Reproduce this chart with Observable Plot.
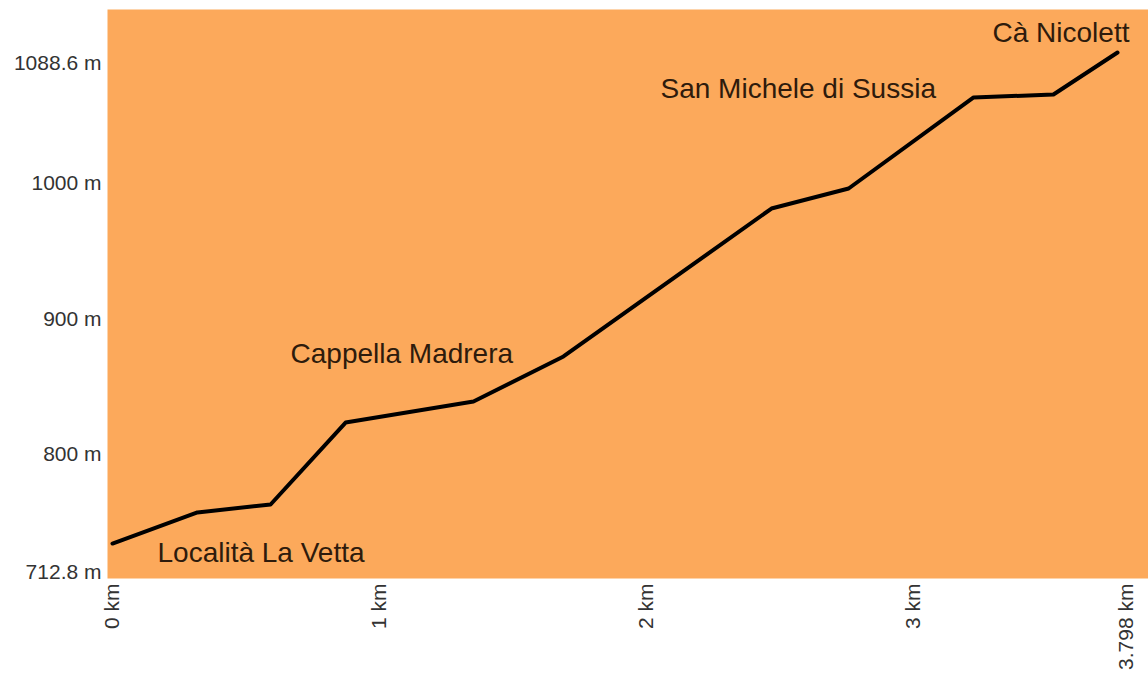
<!DOCTYPE html>
<html><head><meta charset="utf-8">
<script src="https://cdn.jsdelivr.net/npm/d3@7"></script>
<script src="https://cdn.jsdelivr.net/npm/@observablehq/plot@0.6"></script>
<style>body{margin:0;background:#fff;}</style>
</head><body><div id="chart"></div>
<script>
// Elevation profile
const distanceKm = [0, 0.318, 0.592, 0.873, 1.352, 1.689, 2.468, 2.757, 3.225, 3.524, 3.764];
const elevationM = [734.2, 757.1, 763.0, 823.5, 839.0, 872.3, 981.5, 996.3, 1063.5, 1065.7, 1096.7];

const xTicks = [0, 1, 2, 3, 3.798];
const xTickLabels = ["0 km", "1 km", "2 km", "3 km", "3.798 km"];
const yTicks = [712.8, 800, 900, 1000, 1088.6];
const yTickLabels = ["712.8 m", "800 m", "900 m", "1000 m", "1088.6 m"];

const placeNames = ["Località La Vetta", "Cappella Madrera", "San Michele di Sussia", "Cà Nicolett"];
const placeKm = [0.1685, 0.6667, 2.0524, 3.2959];
const placeM = [720.2, 867.1, 1062.8, 1104.1];

const profile = distanceKm.map((d, i) => ({km: d, m: elevationM[i]}));
const places = placeNames.map((n, i) => ({name: n, km: placeKm[i], m: placeM[i]}));

const chart = Plot.plot({
  width: 1148,
  height: 695,
  marginLeft: 107,
  marginRight: 0,
  marginTop: 9,
  marginBottom: 117,
  style: {fontFamily: "'Liberation Sans', Arial, sans-serif", fontSize: "21px", background: "#fff", color: "#333"},
  x: {domain: [-0.0187, 3.880]},
  y: {domain: [708.37, 1128.45]},
  marks: [
    Plot.frame({fill: "#fca95b", stroke: "none"}),
    Plot.axisX({ticks: xTicks, tickFormat: (d) => xTickLabels[xTicks.indexOf(d)], tickRotate: -90, tickSize: 0, tickPadding: 5, label: null, fill: "#333"}),
    Plot.axisY({ticks: yTicks, tickFormat: (d) => yTickLabels[yTicks.indexOf(d)], tickSize: 0, tickPadding: 6, label: null, fill: "#333"}),
    Plot.line(profile, {x: "km", y: "m", stroke: "#000", strokeWidth: 4}),
    Plot.text(places, {x: "km", y: "m", text: "name", textAnchor: "start", lineAnchor: "bottom", fontSize: 28, fill: "#2e1b0c"})
  ]
});
document.getElementById("chart").appendChild(chart);
</script>
</body></html>
